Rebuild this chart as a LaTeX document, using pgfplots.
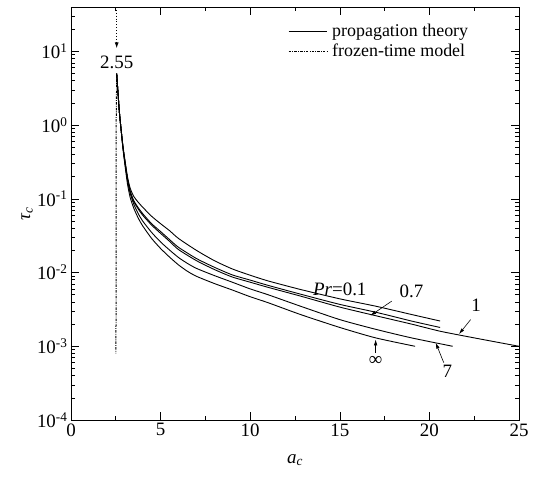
\documentclass[border=0pt]{standalone}
\usepackage{pgfplots}
\pgfplotsset{compat=1.18}
\usepackage{fontspec}
\setmainfont{Liberation Serif}
\usetikzlibrary{arrows.meta}

\newcommand{\lbl}{\fontsize{19}{22}\selectfont}

\begin{document}
\begin{tikzpicture}
\begin{axis}[
  scale only axis,
  width=448bp, height=413bp,
  xmin=0, xmax=25, ymin=1e-4, ymax=40,
  ymode=log, log basis y=10,
  xtick={0,5,...,25}, minor x tick num=1,
  major tick length=8bp, minor tick length=4bp,
  tick style={black, line width=0.6bp},
  axis line style={line width=0.9bp},
  tick label style={font=\lbl},
  /pgf/number format/assume math mode=true,
  yticklabel={\pgfmathparse{int(round(\tick))}10\textsuperscript{\pgfmathresult}},
  xlabel={\textit{a}\textsubscript{\textit{c}}},
  ylabel={\textit{τ}\textsubscript{\textit{c}}},
  label style={font=\lbl},
  xlabel style={at={(axis description cs:0.5,-0.097)}, anchor=center},
  ylabel style={at={(axis description cs:-0.098,0.5)}, anchor=center},
  legend style={draw=none, fill=none, font=\fontsize{18}{21}\selectfont,
    at={(axis description cs:0.48,0.968)}, anchor=north west,
    row sep=2bp, inner sep=2bp,
    nodes={inner xsep=5bp}},
  legend cell align=left,
  legend image code/.code={\draw[#1] (0bp,0bp) -- (38bp,0bp);},
  every axis plot/.append style={black, line width=0.9bp},
  clip=false,
]
% Pr = 0.1
\addplot[smooth, tension=0.4] coordinates {
 (2.55,5)(2.6,3.3)(2.7,1.5)(2.8,0.85)(2.9,0.52)(3.0,0.35)(3.15,0.2)(3.3,0.14)
 (3.5,0.108)(3.75,0.09)(4,0.077)(4.5,0.058)(5,0.046)(5.5,0.037)(6,0.029)
 (7,0.02)(8,0.0145)(9,0.0112)(10,0.0092)(11,0.0077)(12.8,0.0059)(15,0.0044)
 (17,0.0035)(19,0.0027)(20.6,0.0022)};
\addlegendentry{propagation theory}
% frozen-time model
\addplot[line width=1bp, dash pattern=on 2.5bp off 1.2bp on 0.8bp off 1.2bp] coordinates {
 (2.55,5)(2.52,1)(2.51,0.0008)};
\addlegendentry{frozen-time model}
% Pr = 0.7
\addplot[smooth, tension=0.4, forget plot] coordinates {
 (2.55,5)(2.6,3.3)(2.7,1.5)(2.8,0.85)(2.9,0.5)(3.0,0.33)(3.15,0.19)(3.3,0.128)
 (3.5,0.095)(3.75,0.076)(4,0.063)(4.5,0.046)(5,0.036)(5.5,0.028)(6,0.022)
 (7,0.0155)(8,0.0118)(9,0.0093)(10,0.0079)(11,0.0067)(12.8,0.0051)(15,0.0037)
 (17,0.0029)(19,0.0022)(20.6,0.0018)};
% Pr = 1
\addplot[smooth, tension=0.4, forget plot] coordinates {
 (2.55,5)(2.6,3.3)(2.7,1.5)(2.8,0.85)(2.9,0.5)(3.0,0.33)(3.15,0.19)(3.3,0.125)
 (3.5,0.092)(3.75,0.073)(4,0.06)(4.5,0.044)(5,0.034)(5.5,0.0265)(6,0.0205)
 (7,0.0145)(8,0.011)(9,0.0087)(10,0.0074)(11,0.0063)(12.8,0.0048)(15,0.0034)
 (17,0.0026)(19,0.002)(20.6,0.0016)(22.5,0.0013)(25,0.001)};
% Pr = 7
\addplot[smooth, tension=0.4, forget plot] coordinates {
 (2.55,5)(2.6,3.3)(2.7,1.5)(2.8,0.85)(2.9,0.5)(3.0,0.32)(3.15,0.18)(3.3,0.12)
 (3.5,0.085)(3.75,0.063)(4,0.05)(4.5,0.035)(5,0.026)(5.5,0.0202)(6,0.016)
 (6.5,0.0133)(7,0.0114)(8,0.0091)(9,0.0074)(10,0.006)(11,0.005)(12.8,0.0035)
 (15,0.0023)(17,0.0017)(19,0.0013)(21.3,0.001)};
% Pr = infinity
\addplot[smooth, tension=0.4, forget plot] coordinates {
 (2.55,5)(2.6,3.3)(2.7,1.5)(2.8,0.85)(2.9,0.48)(3.0,0.3)(3.15,0.16)(3.3,0.105)
 (3.5,0.075)(3.75,0.055)(4,0.043)(4.5,0.029)(5,0.0212)(5.5,0.0162)(6,0.0127)
 (6.5,0.0104)(7,0.0089)(8,0.0071)(9,0.0058)(10,0.0047)(11,0.0039)(12.8,0.0027)
 (15,0.0018)(17,0.0013)(19.2,0.001)};

% annotations
\draw[line width=0.9bp, dotted, -{Latex[length=6bp,width=4bp]}] (axis cs:2.55,40) -- (axis cs:2.55,11);
\node[font=\lbl] at (axis cs:2.55,7.1) {2.55};
\node[font=\lbl] at (axis cs:15.0,0.0059) {\textit{Pr}=0.1};
\node[font=\lbl] at (axis cs:19.0,0.0056) {0.7};
\draw[line width=0.6bp, -{Latex[length=6bp,width=3.5bp]}] (axis cs:17.9,0.0041) -- (axis cs:16.7,0.0026);
\node[font=\lbl] at (axis cs:22.6,0.0036) {1};
\draw[line width=0.6bp, -{Latex[length=6bp,width=3.5bp]}] (axis cs:22.3,0.0023) -- (axis cs:21.65,0.00146);
\node[font=\lbl] at (axis cs:21.0,0.00046) {7};
\draw[line width=0.6bp, -{Latex[length=6bp,width=3.5bp]}] (axis cs:20.8,0.0006) -- (axis cs:20.35,0.00112);
\node[font=\lbl] at (axis cs:17.0,0.00063) {∞};
\draw[line width=0.6bp, -{Latex[length=6bp,width=3.5bp]}] (axis cs:17.0,0.00081) -- (axis cs:17.0,0.00124);
\end{axis}
\path[use as bounding box] (-71bp,-64bp) rectangle (464bp,420bp);
\end{tikzpicture}
\end{document}
